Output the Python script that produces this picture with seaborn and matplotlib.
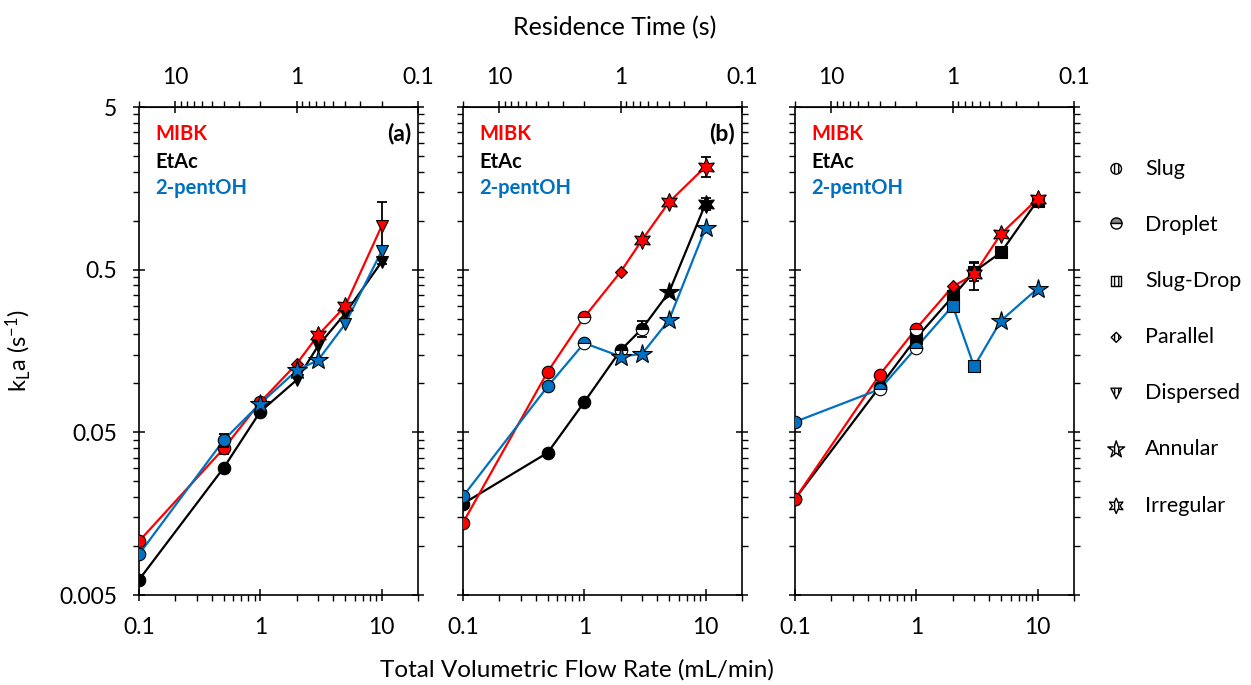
import numpy as np
import pandas as pd
import seaborn as sns
from matplotlib import pyplot as plt
from matplotlib.lines import Line2D
from matplotlib.ticker import FixedLocator, LogLocator, NullFormatter

# total flow rate (mL/min)
flow = [0.1, 0.5, 1, 2, 3, 5, 10]

# kLa (1/s)
a_mibk = [0.0107, 0.0398, 0.0767, 0.132, 0.198, 0.297, 0.923]
a_etac = [0.0062, 0.0303, 0.067, 0.105, 0.170, 0.268, 0.557]
a_pent = [0.0089, 0.0448, 0.0752, 0.120, 0.139, 0.231, 0.648]
b_mibk = [0.0139, 0.118, 0.255, 0.486, 0.762, 1.30, 2.15]
b_etac = [0.0182, 0.0375, 0.0767, 0.160, 0.217, 0.363, 1.27]
b_pent = [0.0202, 0.0959, 0.177, 0.146, 0.152, 0.245, 0.90]
c_mibk = [0.0195, 0.113, 0.217, 0.394, 0.467, 0.830, 1.36]
c_etac = [0.0195, 0.0953, 0.190, 0.342, 0.486, 0.638, 1.33]
c_pent = [0.058, 0.092, 0.166, 0.300, 0.127, 0.243, 0.382]

# flow regime of each point
a_mibk_reg = ['Slug', 'Slug', 'Slug', 'Parallel', 'Irregular', 'Irregular', 'Dispersed']
a_etac_reg = ['Slug', 'Slug', 'Slug', 'Dispersed', 'Dispersed', 'Dispersed', 'Dispersed']
a_pent_reg = ['Slug', 'Slug', 'Annular', 'Annular', 'Annular', 'Dispersed', 'Dispersed']
b_mibk_reg = ['Slug', 'Slug', 'Droplet', 'Parallel', 'Irregular', 'Irregular', 'Irregular']
b_etac_reg = ['Slug', 'Slug', 'Slug', 'Droplet', 'Droplet', 'Annular', 'Irregular']
b_pent_reg = ['Slug', 'Slug', 'Droplet', 'Annular', 'Annular', 'Annular', 'Annular']
c_mibk_reg = ['Slug', 'Slug', 'Droplet', 'Parallel', 'Irregular', 'Irregular', 'Irregular']
c_etac_reg = ['Slug', 'Droplet', 'Slug-Drop', 'Slug-Drop', 'Slug-Drop', 'Slug-Drop', 'Slug-Drop']
c_pent_reg = ['Slug', 'Droplet', 'Droplet', 'Slug-Drop', 'Slug-Drop', 'Annular', 'Annular']

# error bars (absolute, symmetric)
err_panel = ['a', 'a', 'a', 'b', 'b', 'b', 'c', 'c', 'c']
err_solvent = ['MIBK', 'MIBK', '2-pentOH', 'MIBK', 'EtAc', 'EtAc', 'MIBK', 'EtAc', '2-pentOH']
err_flow = [10, 0.5, 0.5, 10, 3, 10, 3, 3, 3]
err_size = [0.38, 0.003, 0.004, 0.3, 0.025, 0.1, 0.09, 0.06, 0.01]

solvents = ['EtAc', 'MIBK', '2-pentOH']
colors = {'MIBK': '#FF0000', 'EtAc': '#000000', '2-pentOH': '#0070C0'}
regimes = ['Slug', 'Droplet', 'Slug-Drop', 'Parallel', 'Dispersed', 'Annular', 'Irregular']
reg_style = {
    'Slug': dict(marker='o', ms=9),
    'Droplet': dict(marker='o', ms=9, fillstyle='top'),
    'Slug-Drop': dict(marker='s', ms=8),
    'Parallel': dict(marker='D', ms=6),
    'Dispersed': dict(marker='v', ms=9),
    'Annular': dict(marker='*', ms=15),
    'Irregular': dict(marker=(6, 1, 0), ms=13),
}

series = {
    ('a', 'MIBK'): (a_mibk, a_mibk_reg), ('a', 'EtAc'): (a_etac, a_etac_reg),
    ('a', '2-pentOH'): (a_pent, a_pent_reg),
    ('b', 'MIBK'): (b_mibk, b_mibk_reg), ('b', 'EtAc'): (b_etac, b_etac_reg),
    ('b', '2-pentOH'): (b_pent, b_pent_reg),
    ('c', 'MIBK'): (c_mibk, c_mibk_reg), ('c', 'EtAc'): (c_etac, c_etac_reg),
    ('c', '2-pentOH'): (c_pent, c_pent_reg),
}
df = pd.concat([pd.DataFrame({'panel': p, 'solvent': s, 'flow': flow, 'kla': v, 'regime': r})
                for (p, s), (v, r) in series.items()], ignore_index=True)
errs = pd.DataFrame({'panel': err_panel, 'solvent': err_solvent, 'flow': err_flow, 'err': err_size})
errs = errs.merge(df, on=['panel', 'solvent', 'flow'])


def to_time(x):
    x = np.asarray(x, dtype=float)
    with np.errstate(divide='ignore'):
        return 2.0 / x


sns.set_style('ticks', {'axes.edgecolor': 'black', 'xtick.color': 'black', 'ytick.color': 'black',
                        'text.color': 'black', 'axes.labelcolor': 'black'})
plt.rcParams['font.family'] = ['Lato', 'DejaVu Sans']
plt.rcParams['mathtext.default'] = 'regular'

fig = plt.figure(figsize=(12.51, 6.85), dpi=100)
lefts = [139, 463, 795]
minor_y = [m * 10.0 ** e for e in range(-3, 1) for m in np.arange(1, 5, 0.5)]

for i, p in enumerate('abc'):
    ax = fig.add_axes([lefts[i] / 1251, 90 / 685, 279 / 1251, 488 / 685])
    sub = df[df.panel == p]
    sns.lineplot(data=sub, x='flow', y='kla', hue='solvent', hue_order=solvents, palette=colors,
                 estimator=None, legend=False, lw=1.6, ax=ax)
    for z, s in enumerate(solvents):
        g = sub[sub.solvent == s]
        for reg, gr in g.groupby('regime'):
            st = reg_style[reg]
            ax.plot(gr.flow, gr.kla, ls='none', marker=st['marker'], ms=st['ms'],
                    fillstyle=st.get('fillstyle', 'full'), mfc=colors[s], markerfacecoloralt='white',
                    mec='black', mew=0.8, zorder=4 + z)
        e = errs[(errs.panel == p) & (errs.solvent == s)]
        if len(e):
            ax.errorbar(e.flow, e.kla, yerr=e.err, fmt='none', ecolor='black', elinewidth=1.3,
                        capsize=3.5, capthick=1.3, zorder=3.5 + z)

    ax.set_xscale('log')
    ax.set_yscale('log')
    ax.set_xlim(0.1, 20)
    ax.set_ylim(0.005, 5)
    ax.set_xticks([0.1, 1, 10], labels=['0.1', '1', '10'])
    ax.xaxis.set_minor_locator(LogLocator(base=10, subs=np.arange(2, 10), numticks=20))
    ax.xaxis.set_minor_formatter(NullFormatter())
    ax.set_yticks([0.005, 0.05, 0.5, 5], labels=['0.005', '0.05', '0.5', '5'] if i == 0 else [])
    ax.yaxis.set_minor_locator(FixedLocator(minor_y))
    ax.yaxis.set_minor_formatter(NullFormatter())
    ax.tick_params(which='major', direction='inout', length=9, width=1.1, top=False, right=True,
                   labelsize=16.5, pad=11)
    ax.tick_params(which='minor', direction='out', length=4, width=1.0, top=False, right=True)
    for sp in ax.spines.values():
        sp.set_linewidth(1.2)
    ax.set_xlabel('')
    ax.set_ylabel('')

    sec = ax.secondary_xaxis('top', functions=(to_time, to_time))
    sec.set_xticks([10, 1, 0.1], labels=['10', '1', '0.1'])
    sec.xaxis.set_minor_locator(LogLocator(base=10, subs=np.arange(2, 10), numticks=20))
    sec.xaxis.set_minor_formatter(NullFormatter())
    sec.tick_params(which='major', direction='inout', length=9, width=1.1, labelsize=16.5, pad=9)
    sec.tick_params(which='minor', direction='out', length=4, width=1.0)

    ax.text(0.06, 0.945, 'MIBK', color=colors['MIBK'], weight='bold', fontsize=14.5,
            va='center', transform=ax.transAxes)
    ax.text(0.06, 0.888, 'EtAc', color=colors['EtAc'], weight='bold', fontsize=14.5,
            va='center', transform=ax.transAxes)
    ax.text(0.06, 0.833, '2-pentOH', color=colors['2-pentOH'], weight='bold', fontsize=14.5,
            va='center', transform=ax.transAxes)
    if p != 'c':
        ax.text(0.975, 0.945, f'({p})', weight='bold', fontsize=16.5, ha='right', va='center',
                transform=ax.transAxes)
    if i == 0:
        ax.set_ylabel('k$_{L}$a (s$^{-1}$)', fontsize=17)
        ax.yaxis.set_label_coords(-0.38, 0.5)
    last_ax = ax

fig.text(577 / 1251, 1 - 670 / 685, 'Total Volumetric Flow Rate (mL/min)', fontsize=17.5,
         ha='center', va='center')
fig.text(615 / 1251, 1 - 28 / 685, 'Residence Time (s)', fontsize=18, ha='center', va='center')

# regime legend: hatched white markers
handles = []
for reg in regimes:
    st = reg_style[reg]
    if reg == 'Droplet':
        h = Line2D([], [], ls='none', marker='o', ms=8, fillstyle='top', mfc='#8a8a8a',
                   markerfacecoloralt='white', mec='black', mew=1.0)
    else:
        h = last_ax.scatter([], [], marker=st['marker'], s=(st['ms'] * 0.85) ** 2, facecolor='white',
                            edgecolor='black', hatch='||||', linewidths=1.0)
    handles.append(h)
fig.legend(handles, regimes, loc='center left', bbox_to_anchor=(1085 / 1251, 1 - 337 / 685),
           frameon=False, fontsize=15.5, labelspacing=1.68, handlelength=1.1, handletextpad=0.8)

fig.savefig('out.png', dpi=100)
